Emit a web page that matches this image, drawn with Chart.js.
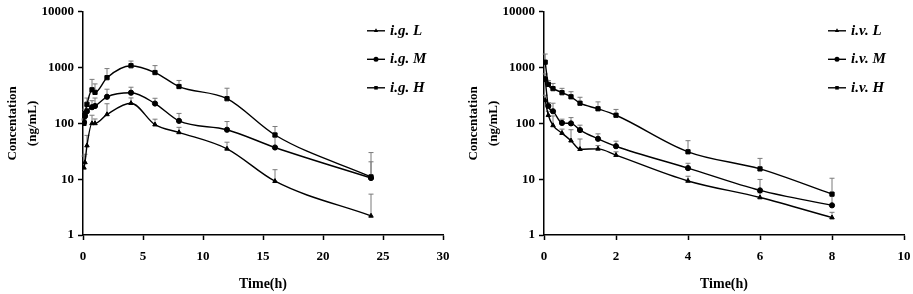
<!DOCTYPE html>
<html>
<head>
<meta charset="utf-8">
<script src="https://cdn.jsdelivr.net/npm/chart.js@4.4.0/dist/chart.umd.min.js"></script>
<style>
    body { margin: 0; background: #fff; }
    #wrap { position: relative; width: 913px; height: 294px; }
    canvas { position: absolute; top: 0; }
</style>
</head>
<body>
<div id="wrap">
    <canvas id="igChart" width="456" height="294" style="left:0"></canvas>
    <canvas id="ivChart" width="457" height="294" style="left:456px"></canvas>
</div>
<script>
// --- i.g. (oral) data ---
const igTimes = [0.083, 0.167, 0.33, 0.75, 1, 2, 4, 6, 8, 12, 16, 24];
const igL = [16, 20, 40, 100, 100, 145, 230, 95, 69, 35, 9.2, 2.2];
const igLsd = [10, 8, 21, 40, 20, 80, 56, 24, 16, 11, 5.6, 3.2];
const igM = [105, 135, 165, 195, 205, 300, 355, 227, 111, 77, 37, 10.5];
const igMsd = [15, 25, 40, 60, 80, 110, 90, 55, 40, 31, 20, 10];
const igH = [100, 150, 220, 400, 360, 660, 1080, 815, 458, 277, 62, 11];
const igHsd = [15, 30, 65, 215, 150, 300, 230, 270, 130, 150, 26, 19];

// --- i.v. data ---
const ivTimes = [0.033, 0.12, 0.25, 0.5, 0.75, 1, 1.5, 2, 4, 6, 8];
const ivL = [260, 140, 92, 67, 49, 34.5, 35, 27, 9.3, 4.7, 2.05];
const ivLsd = [60, 25, 44, 12, 28, 18, 5, 4, 2, 1, 0.5];
const ivM = [620, 205, 165, 102, 100, 76, 53, 39, 15.8, 6.3, 3.4];
const ivMsd = [150, 30, 65, 17, 27, 17, 12, 9, 3.5, 3.6, 2];
const ivH = [1250, 500, 420, 355, 300, 230, 183, 140, 31, 15.3, 5.4];
const ivHsd = [500, 85, 100, 70, 70, 64, 60, 38, 18, 8.3, 5];

const igXTicks = [0, 5, 10, 15, 20, 25, 30];
const ivXTicks = [0, 2, 4, 6, 8, 10];
const yTicks = [1, 10, 100, 1000, 10000];

const serif = '"Liberation Serif", "Times New Roman", serif';

// gray upward error bars with small caps
const errorBars = {
    id: 'errorBars',
    beforeDatasetsDraw(chart) {
        const ctx = chart.ctx;
        const y = chart.scales.y;
        ctx.save();
        ctx.strokeStyle = '#7a7a7a';
        ctx.lineWidth = 1;
        chart.data.datasets.forEach((ds, i) => {
            const meta = chart.getDatasetMeta(i);
            meta.data.forEach((pt, j) => {
                const top = y.getPixelForValue(ds.data[j].y + ds.sd[j]);
                ctx.beginPath();
                ctx.moveTo(pt.x, pt.y);
                ctx.lineTo(pt.x, top);
                ctx.moveTo(pt.x - 2.5, top);
                ctx.lineTo(pt.x + 2.5, top);
                ctx.stroke();
            });
        });
        ctx.restore();
    }
};

// legend stacked at top right of the plot
const sideLegend = {
    id: 'sideLegend',
    afterDraw(chart) {
        const ctx = chart.ctx;
        const area = chart.chartArea;
        ctx.save();
        chart.data.datasets.forEach((ds, i) => {
            const ly = area.top + 19 + i * 28.5;
            const lx = area.right - 76;
            ctx.strokeStyle = '#000';
            ctx.lineWidth = 1.4;
            ctx.beginPath();
            ctx.moveTo(lx, ly);
            ctx.lineTo(lx + 18, ly);
            ctx.stroke();
            ctx.fillStyle = '#000';
            Chart.helpers.drawPoint(ctx, { pointStyle: ds.pointStyle, radius: 2.5, rotation: 0 }, lx + 9, ly);
            ctx.font = 'italic bold 15px ' + serif;
            ctx.textBaseline = 'middle';
            ctx.textAlign = 'left';
            ctx.fillText(ds.label, lx + 23, ly);
        });
        ctx.restore();
    }
};

function series(label, times, values, sd, style) {
    return {
        label: label,
        data: times.map((t, i) => ({ x: t, y: values[i] })),
        sd: sd,
        borderColor: '#000',
        backgroundColor: '#000',
        borderWidth: 1.4,
        pointStyle: style,
        pointRadius: style === 'rect' ? 3 : 2.6,
        pointBorderWidth: 1,
        cubicInterpolationMode: 'monotone',
        fill: false
    };
}

function axisFont(size) {
    return { family: serif, size: size, weight: 'bold' };
}

function makeOptions(xMax, xTicks, pad) {
    return {
        responsive: false,
        animation: false,
        layout: { padding: pad },
        plugins: { legend: { display: false }, tooltip: { enabled: false } },
        scales: {
            x: {
                type: 'linear',
                min: 0,
                max: xMax,
                afterBuildTicks: s => { s.ticks = xTicks.map(v => ({ value: v })); },
                afterFit: s => {
                    s.height = 294 - 235;
                    s.paddingLeft = 0;
                    s.paddingRight = 0;
                },
                grid: { drawOnChartArea: false, drawTicks: true, tickLength: 5, tickColor: '#000', tickWidth: 1.5 },
                border: { color: '#000', width: 1.5 },
                ticks: { color: '#000', font: axisFont(13), padding: 9, maxRotation: 0, autoSkip: false },
                title: { display: true, text: 'Time(h)', color: '#000', font: axisFont(14), padding: { top: 0, bottom: 1 } }
            },
            y: {
                type: 'logarithmic',
                min: 1,
                max: 10000,
                afterBuildTicks: s => { s.ticks = yTicks.map(v => ({ value: v })); },
                afterFit: s => { s.width = 80; },
                grid: { drawOnChartArea: false, drawTicks: true, tickLength: 5, tickColor: '#000', tickWidth: 1.5 },
                border: { color: '#000', width: 1.5 },
                ticks: { color: '#000', font: axisFont(13), padding: 4, callback: v => String(v) },
                title: { display: true, text: ['Concentation', '(ng/mL)'], color: '#000', font: { family: serif, size: 13, weight: 'bold', lineHeight: 1.5 }, padding: 0 }
            }
        }
    };
}

new Chart(document.getElementById('igChart'), {
    type: 'line',
    data: {
        datasets: [
            series('i.g. L', igTimes, igL, igLsd, 'triangle'),
            series('i.g. M', igTimes, igM, igMsd, 'circle'),
            series('i.g. H', igTimes, igH, igHsd, 'rect')
        ]
    },
    options: makeOptions(30, igXTicks, { left: 3, right: 13, top: 7, bottom: 0 }),
    plugins: [errorBars, sideLegend]
});

new Chart(document.getElementById('ivChart'), {
    type: 'line',
    data: {
        datasets: [
            series('i.v. L', ivTimes, ivL, ivLsd, 'triangle'),
            series('i.v. M', ivTimes, ivM, ivMsd, 'circle'),
            series('i.v. H', ivTimes, ivH, ivHsd, 'rect')
        ]
    },
    options: makeOptions(10, ivXTicks, { left: 8, right: 9, top: 7, bottom: 0 }),
    plugins: [errorBars, sideLegend]
});
</script>
</body>
</html>
